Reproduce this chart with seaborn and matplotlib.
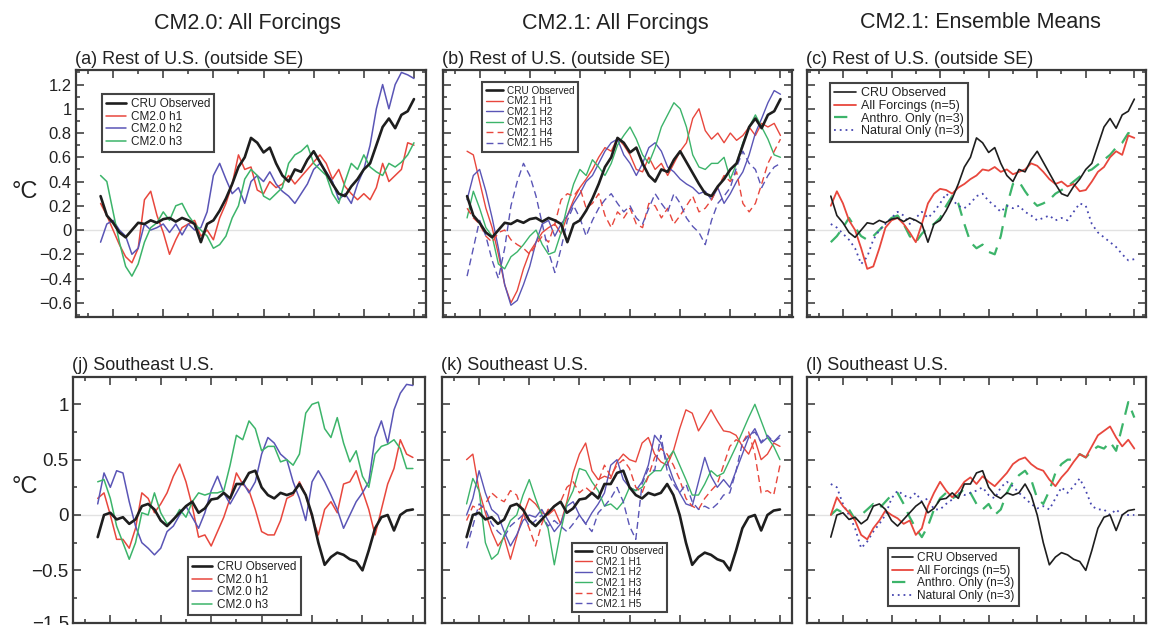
import numpy as np
import pandas as pd
import matplotlib
matplotlib.use("Agg")
import matplotlib.pyplot as plt
import seaborn as sns
from matplotlib.ticker import MultipleLocator, FixedLocator, FixedFormatter, NullFormatter

# ---------------- data (x grid: 1875..2000 every 2.5 yr) ----------------
years = [1875 + 2.5 * i for i in range(51)]

# Rest of U.S. (outside SE)
cru_rest = [0.28, 0.12, 0.06, -0.02, -0.06, 0.00, 0.06, 0.05, 0.08, 0.06,
            0.09, 0.10, 0.07, 0.10, 0.08, 0.05, -0.10, 0.05, 0.08, 0.16,
            0.26, 0.38, 0.52, 0.60, 0.76, 0.72, 0.64, 0.68, 0.55, 0.45,
            0.40, 0.50, 0.48, 0.58, 0.65, 0.56, 0.47, 0.38, 0.30, 0.28,
            0.36, 0.42, 0.50, 0.55, 0.70, 0.85, 0.92, 0.84, 0.95, 0.98,
            1.08]
cm20_h1_rest = [0.22, 0.12, 0.00, -0.12, -0.22, -0.27, -0.15, 0.25, 0.32, 0.12,
                -0.02, -0.20, -0.08, 0.02, 0.05, 0.08, -0.05, 0.00, -0.08, 0.10,
                0.22, 0.38, 0.62, 0.50, 0.52, 0.33, 0.30, 0.40, 0.35, 0.38,
                0.45, 0.38, 0.44, 0.50, 0.56, 0.62, 0.55, 0.42, 0.50, 0.36,
                0.30, 0.25, 0.30, 0.25, 0.35, 0.55, 0.40, 0.45, 0.50, 0.72,
                0.70]
cm20_h2_rest = [-0.10, 0.05, 0.08, 0.00, -0.05, -0.20, -0.15, 0.05, 0.00, 0.02,
                0.05, -0.02, 0.05, -0.04, 0.05, 0.00, 0.02, 0.15, 0.45, 0.55,
                0.42, 0.30, 0.35, 0.22, 0.40, 0.45, 0.40, 0.48, 0.38, 0.32,
                0.28, 0.22, 0.30, 0.38, 0.50, 0.55, 0.48, 0.40, 0.25, 0.30,
                0.22, 0.38, 0.50, 0.70, 1.00, 1.20, 1.00, 1.20, 1.30, 1.28,
                1.25]
cm20_h3_rest = [0.45, 0.40, 0.15, -0.10, -0.30, -0.38, -0.28, -0.10, 0.02, 0.06,
                0.15, 0.08, 0.20, 0.22, 0.12, 0.05, 0.00, -0.05, -0.15, -0.12,
                -0.05, 0.10, 0.20, 0.42, 0.50, 0.45, 0.28, 0.25, 0.30, 0.35,
                0.55, 0.62, 0.65, 0.70, 0.55, 0.50, 0.45, 0.30, 0.22, 0.40,
                0.55, 0.50, 0.62, 0.52, 0.48, 0.45, 0.55, 0.52, 0.56, 0.62,
                0.72]
cm21_h1_rest = [0.65, 0.62, 0.40, 0.18, 0.02, -0.20, -0.45, -0.60, -0.50, -0.32,
                -0.18, -0.10, -0.02, 0.02, 0.05, -0.03, 0.12, 0.25, 0.35, 0.42,
                0.50, 0.60, 0.68, 0.65, 0.76, 0.70, 0.62, 0.50, 0.48, 0.60,
                0.50, 0.55, 0.45, 0.55, 0.65, 0.72, 0.92, 1.00, 0.82, 0.75,
                0.80, 0.72, 0.80, 0.74, 0.78, 0.85, 0.78, 0.88, 0.85, 0.88,
                0.78]
cm21_h2_rest = [0.25, 0.45, 0.50, 0.32, 0.10, -0.15, -0.45, -0.62, -0.58, -0.45,
                -0.30, -0.10, 0.05, 0.08, -0.05, 0.05, 0.12, 0.22, 0.30, 0.40,
                0.45, 0.55, 0.65, 0.72, 0.75, 0.62, 0.55, 0.45, 0.55, 0.68,
                0.72, 0.65, 0.52, 0.48, 0.42, 0.38, 0.35, 0.30, 0.32, 0.25,
                0.35, 0.22, 0.30, 0.40, 0.48, 0.62, 0.80, 0.92, 1.05, 1.15,
                1.12]
cm21_h3_rest = [0.10, 0.32, 0.18, 0.02, -0.05, -0.28, -0.32, -0.22, -0.18, -0.12,
                -0.05, 0.00, -0.12, -0.20, -0.18, -0.02, 0.20, 0.38, 0.50, 0.45,
                0.58, 0.52, 0.45, 0.55, 0.70, 0.78, 0.85, 0.75, 0.62, 0.55,
                0.68, 0.85, 0.95, 1.05, 1.00, 0.85, 0.62, 0.52, 0.50, 0.55,
                0.55, 0.60, 0.42, 0.55, 0.72, 0.85, 0.95, 0.85, 0.75, 0.62,
                0.60]
cm21_h4_rest = [0.18, 0.10, 0.05, -0.05, -0.10, -0.02, 0.00, -0.08, -0.12, -0.15,
                -0.20, -0.12, -0.05, -0.10, 0.05, 0.25, 0.30, 0.28, 0.35, 0.18,
                0.22, 0.30, 0.12, 0.02, 0.15, 0.10, 0.18, 0.05, 0.02, 0.22,
                0.20, 0.10, 0.18, 0.05, 0.12, 0.20, 0.28, 0.15, 0.18, 0.25,
                0.35, 0.45, 0.40, 0.48, 0.22, 0.15, 0.22, 0.38, 0.55, 0.65,
                0.75]
cm21_h5_rest = [-0.38, -0.15, 0.08, -0.05, -0.25, -0.40, -0.15, 0.20, 0.40, 0.55,
                0.45, 0.28, 0.05, -0.18, -0.35, -0.15, 0.08, 0.20, 0.10, -0.05,
                0.08, 0.18, 0.25, 0.30, 0.22, 0.15, 0.20, 0.10, 0.05, 0.18,
                0.30, 0.22, 0.15, 0.30, 0.22, 0.10, 0.03, -0.02, -0.12, 0.08,
                0.22, 0.28, 0.35, 0.52, 0.65, 0.55, 0.50, 0.35, 0.45, 0.52,
                0.55]
allforc_rest = [0.20, 0.32, 0.22, 0.08, 0.00, -0.15, -0.32, -0.30, -0.15, 0.02,
                0.08, 0.10, 0.05, -0.02, -0.10, 0.05, 0.22, 0.30, 0.34, 0.33,
                0.30, 0.35, 0.38, 0.42, 0.45, 0.50, 0.49, 0.52, 0.48, 0.50,
                0.46, 0.48, 0.50, 0.55, 0.53, 0.48, 0.42, 0.38, 0.40, 0.36,
                0.38, 0.32, 0.33, 0.40, 0.48, 0.52, 0.60, 0.65, 0.62, 0.78,
                0.76]
anthro_rest = [-0.10, -0.05, 0.02, 0.10, 0.02, -0.05, -0.08, -0.05, 0.00, 0.05,
               0.10, 0.12, 0.05, -0.05, -0.10, -0.03, 0.02, 0.05, 0.10, 0.20,
               0.28, 0.22, 0.05, -0.10, -0.15, -0.12, -0.18, -0.20, -0.05, 0.20,
               0.38, 0.40, 0.32, 0.25, 0.20, 0.22, 0.25, 0.30, 0.33, 0.36,
               0.40, 0.44, 0.48, 0.50, 0.54, 0.58, 0.62, 0.68, 0.72, 0.80,
               0.78]
natural_rest = [0.05, 0.02, -0.03, -0.08, -0.15, -0.28, -0.22, -0.08, 0.00, 0.05,
                0.10, 0.15, 0.12, 0.05, 0.10, 0.15, 0.10, 0.15, 0.22, 0.30,
                0.25, 0.20, 0.18, 0.22, 0.28, 0.30, 0.24, 0.20, 0.15, 0.20,
                0.18, 0.20, 0.15, 0.12, 0.08, 0.10, 0.12, 0.08, 0.10, 0.08,
                0.15, 0.22, 0.20, 0.05, -0.02, -0.06, -0.10, -0.14, -0.20, -0.25,
                -0.24]

# Southeast U.S.
cru_se = [-0.20, 0.00, 0.02, -0.04, -0.02, -0.08, -0.04, 0.08, 0.10, 0.05,
          -0.05, -0.10, -0.04, 0.02, 0.08, 0.12, 0.02, 0.06, 0.14, 0.15,
          0.20, 0.15, 0.28, 0.28, 0.38, 0.40, 0.25, 0.18, 0.15, 0.20,
          0.18, 0.20, 0.28, 0.18, 0.00, -0.25, -0.45, -0.38, -0.34, -0.36,
          -0.40, -0.42, -0.50, -0.32, -0.12, -0.02, 0.00, -0.14, 0.00, 0.04,
          0.05]
cm20_h1_se = [0.15, 0.20, 0.00, -0.22, -0.22, -0.30, -0.12, 0.20, 0.15, 0.02,
              0.10, 0.20, 0.35, 0.46, 0.30, 0.08, -0.20, -0.18, -0.28, -0.15,
              -0.02, 0.15, 0.38, 0.28, 0.22, 0.05, -0.15, -0.18, -0.18, -0.05,
              0.15, 0.18, 0.30, 0.18, -0.02, -0.18, 0.05, 0.12, 0.02, 0.28,
              0.30, 0.40, 0.22, 0.05, -0.18, 0.05, 0.28, 0.42, 0.68, 0.55,
              0.52]
cm20_h2_se = [0.10, 0.38, 0.25, 0.40, 0.38, 0.12, -0.10, -0.25, -0.30, -0.36,
              -0.30, -0.15, -0.10, 0.00, 0.08, -0.02, -0.12, 0.02, 0.22, 0.35,
              0.20, 0.10, 0.20, 0.30, 0.20, 0.30, 0.55, 0.70, 0.65, 0.55,
              0.50, 0.30, 0.15, -0.05, 0.30, 0.40, 0.30, 0.18, 0.05, -0.12,
              0.00, 0.12, 0.20, 0.30, 0.70, 0.85, 0.65, 0.95, 1.10, 1.18,
              1.17]
cm20_h3_se = [0.30, 0.32, 0.15, -0.10, -0.25, -0.40, -0.25, 0.02, 0.00, 0.20,
              0.02, -0.08, -0.05, 0.05, -0.02, 0.12, 0.20, 0.18, 0.20, 0.20,
              0.22, 0.45, 0.72, 0.68, 0.85, 0.78, 0.58, 0.62, 0.62, 0.48,
              0.50, 0.45, 0.55, 0.92, 1.00, 1.02, 0.78, 0.70, 0.88, 0.65,
              0.48, 0.58, 0.35, 0.25, 0.55, 0.62, 0.64, 0.68, 0.60, 0.42,
              0.42]
cm21_h1_se = [0.50, 0.55, 0.22, 0.02, -0.15, -0.28, -0.20, -0.40, -0.20, 0.00,
              0.15, 0.10, 0.02, 0.00, 0.05, -0.08, 0.12, 0.38, 0.55, 0.65,
              0.40, 0.32, 0.35, 0.33, 0.48, 0.55, 0.50, 0.48, 0.65, 0.70,
              0.55, 0.48, 0.45, 0.58, 0.78, 0.95, 0.92, 0.76, 0.85, 0.95,
              0.85, 0.76, 0.75, 0.72, 0.62, 0.55, 0.68, 0.50, 0.55, 0.65,
              0.62]
cm21_h2_se = [0.00, 0.15, 0.40, 0.20, 0.05, 0.00, -0.15, -0.28, -0.18, -0.05,
              0.00, -0.02, 0.05, -0.05, -0.15, -0.08, 0.08, 0.12, 0.00, -0.08,
              0.02, 0.10, 0.20, 0.45, 0.50, 0.32, 0.25, 0.22, 0.30, 0.45,
              0.72, 0.65, 0.48, 0.32, 0.20, 0.10, 0.08, 0.30, 0.52, 0.35,
              0.25, 0.32, 0.25, 0.40, 0.55, 0.70, 0.78, 0.65, 0.70, 0.66,
              0.72]
cm21_h3_se = [0.10, 0.33, 0.22, -0.25, -0.40, -0.35, -0.18, -0.05, 0.00, 0.18,
              0.32, 0.15, 0.00, -0.12, -0.45, -0.15, 0.10, 0.22, 0.42, 0.40,
              0.30, 0.22, 0.08, 0.10, 0.05, 0.12, 0.25, 0.22, 0.25, 0.35,
              0.40, 0.40, 0.50, 0.58, 0.45, 0.32, 0.18, 0.18, 0.28, 0.40,
              0.35, 0.38, 0.50, 0.62, 0.75, 0.88, 1.00, 0.85, 0.70, 0.62,
              0.50]
cm21_h4_se = [-0.05, 0.08, 0.05, 0.10, 0.20, 0.15, 0.12, 0.22, 0.18, 0.02,
              -0.12, -0.28, -0.08, 0.05, 0.08, 0.12, 0.25, 0.30, 0.20, 0.25,
              0.20, 0.30, 0.45, 0.35, 0.45, 0.50, 0.42, 0.25, 0.20, 0.35,
              0.52, 0.60, 0.55, 0.45, 0.32, 0.15, 0.08, 0.05, 0.15, 0.22,
              0.28, 0.45, 0.62, 0.68, 0.65, 0.75, 0.55, 0.20, 0.22, 0.18,
              0.45]
cm21_h5_se = [-0.30, -0.10, 0.10, 0.05, -0.08, -0.15, -0.20, -0.10, -0.05, 0.00,
              -0.10, -0.05, 0.00, -0.10, -0.05, -0.10, -0.15, -0.08, 0.00, -0.08,
              -0.15, 0.02, 0.08, 0.15, 0.25, 0.12, -0.10, -0.22, 0.28, 0.42,
              0.40, 0.72, 0.40, 0.28, 0.20, 0.28, 0.12, 0.05, 0.08, 0.05,
              0.10, 0.18, 0.20, 0.40, 0.65, 0.72, 0.75, 0.66, 0.72, 0.66,
              0.70]
allforc_se = [0.00, 0.16, 0.08, 0.02, -0.05, -0.18, -0.22, -0.12, -0.05, 0.04,
              0.00, -0.03, -0.08, -0.05, -0.18, -0.12, 0.08, 0.20, 0.30, 0.22,
              0.16, 0.22, 0.30, 0.34, 0.28, 0.35, 0.30, 0.26, 0.32, 0.38,
              0.46, 0.50, 0.52, 0.46, 0.42, 0.40, 0.32, 0.26, 0.34, 0.40,
              0.48, 0.55, 0.52, 0.62, 0.72, 0.76, 0.80, 0.70, 0.62, 0.68,
              0.60]
anthro_se = [0.00, 0.05, 0.02, 0.05, -0.04, 0.00, 0.05, 0.10, 0.06, 0.12,
             0.18, 0.20, 0.10, -0.02, -0.12, -0.20, -0.10, 0.05, 0.15, 0.20,
             0.15, 0.18, 0.24, 0.20, 0.10, 0.05, 0.10, 0.00, 0.05, 0.20,
             0.30, 0.36, 0.40, 0.32, 0.15, 0.10, 0.22, 0.38, 0.46, 0.50,
             0.50, 0.55, 0.52, 0.58, 0.62, 0.60, 0.66, 0.58, 0.80, 1.02,
             0.88]
natural_se = [0.28, 0.25, 0.10, 0.00, -0.12, -0.30, -0.24, -0.15, -0.08, 0.00,
              0.15, 0.22, 0.18, 0.15, 0.20, 0.12, 0.15, 0.05, 0.05, 0.10,
              0.14, 0.20, 0.18, 0.20, 0.22, 0.25, 0.18, 0.15, 0.25, 0.30,
              0.26, 0.20, 0.15, 0.10, 0.06, 0.08, 0.05, 0.15, 0.25, 0.20,
              0.26, 0.33, 0.22, 0.08, 0.05, 0.05, 0.00, 0.05, 0.00, 0.00,
              0.00]

col_titles = ["CM2.0: All Forcings", "CM2.1: All Forcings", "CM2.1: Ensemble Means"]
row1_ticklabels = ["\u22120.6", "\u22120.4", "\u22120.2", "0", "0.2", "0.4", "0.6", "0.8", "1", "1.2"]
row1_ticks = [-0.6, -0.4, -0.2, 0.0, 0.2, 0.4, 0.6, 0.8, 1.0, 1.2]
row2_ticklabels = ["\u22121.5", "\u22120.5", "0", "0.5", "1"]

# ---------------- style ----------------
sns.set_style("ticks")
plt.rcParams["font.family"] = ["Liberation Sans", "DejaVu Sans"]
plt.rcParams["text.color"] = "#222222"
plt.rcParams["axes.unicode_minus"] = True

BLACK = "#1e1e1e"
RED = "#e8473d"
BLUE = "#5a55b6"
GREEN = "#3cb46a"
DOTBLUE = "#4646b0"
DASH = (0, (5, 3))

W, H = 1152, 625
fig = plt.figure(figsize=(W / 100, H / 100), dpi=100)


def add_ax(left, top, width, height):
    return fig.add_axes([left / W, 1 - (top + height) / H, width / W, height / H])


ROW1 = (70, 247)
ROW2 = (377.3, 245.4)

cm20_rest = [("CRU Observed", cru_rest, BLACK, 1.9, "-", 5),
             ("CM2.0 h1", cm20_h1_rest, RED, 1.1, "-", 3),
             ("CM2.0 h2", cm20_h2_rest, BLUE, 1.1, "-", 3),
             ("CM2.0 h3", cm20_h3_rest, GREEN, 1.1, "-", 3)]
cm21_rest = [("CRU Observed", cru_rest, BLACK, 1.9, "-", 5),
             ("CM2.1 H1", cm21_h1_rest, RED, 1.0, "-", 3),
             ("CM2.1 H2", cm21_h2_rest, BLUE, 1.0, "-", 3),
             ("CM2.1 H3", cm21_h3_rest, GREEN, 1.0, "-", 3),
             ("CM2.1 H4", cm21_h4_rest, RED, 1.0, DASH, 3),
             ("CM2.1 H5", cm21_h5_rest, BLUE, 1.0, DASH, 3)]
ens_rest = [("CRU Observed", cru_rest, BLACK, 1.2, "-", 5),
            ("All Forcings (n=5)", allforc_rest, RED, 1.3, "-", 4),
            ("Anthro. Only (n=3)", anthro_rest, GREEN, 1.6, (0, (6, 4)), 3),
            ("Natural Only (n=3)", natural_rest, DOTBLUE, 1.3, (0, (1, 2.2)), 3)]
cm20_se = [("CRU Observed", cru_se, BLACK, 1.9, "-", 5),
           ("CM2.0 h1", cm20_h1_se, RED, 1.1, "-", 3),
           ("CM2.0 h2", cm20_h2_se, BLUE, 1.1, "-", 3),
           ("CM2.0 h3", cm20_h3_se, GREEN, 1.1, "-", 3)]
cm21_se = [("CRU Observed", cru_se, BLACK, 1.9, "-", 5),
           ("CM2.1 H1", cm21_h1_se, RED, 1.0, "-", 3),
           ("CM2.1 H2", cm21_h2_se, BLUE, 1.0, "-", 3),
           ("CM2.1 H3", cm21_h3_se, GREEN, 1.0, "-", 3),
           ("CM2.1 H4", cm21_h4_se, RED, 1.0, DASH, 3),
           ("CM2.1 H5", cm21_h5_se, BLUE, 1.0, DASH, 3)]
ens_se = [("CRU Observed", cru_se, BLACK, 1.2, "-", 5),
          ("All Forcings (n=5)", allforc_se, RED, 1.3, "-", 4),
          ("Anthro. Only (n=3)", anthro_se, GREEN, 1.6, (0, (6, 4)), 3),
          ("Natural Only (n=3)", natural_se, DOTBLUE, 1.3, (0, (1, 2.2)), 3)]

panels = [
    dict(left=76, width=350, row=1, title="(a) Rest of U.S. (outside SE)", series=cm20_rest,
         labels=True, leg=(0.074, 0.903), lfs=8.5),
    dict(left=442.5, width=350, row=1, title="(b) Rest of U.S. (outside SE)", series=cm21_rest,
         labels=False, leg=(0.114, 0.951), lfs=7.2),
    dict(left=807, width=339, row=1, title="(c) Rest of U.S. (outside SE)", series=ens_rest,
         labels=False, leg=(0.068, 0.947), lfs=9.0),
    dict(left=73, width=352, row=2, title="(j) Southeast U.S.", series=cm20_se,
         labels=True, leg=(0.327, 0.268), lfs=8.5),
    dict(left=442, width=350, row=2, title="(k) Southeast U.S.", series=cm21_se,
         labels=False, leg=(0.371, 0.325), lfs=7.2),
    dict(left=807, width=339, row=2, title="(l) Southeast U.S.", series=ens_se,
         labels=False, leg=(0.239, 0.304), lfs=8.6),
]

for p in panels:
    top, h = ROW1 if p["row"] == 1 else ROW2
    ax = add_ax(p["left"], top, p["width"], h)
    ax.axhline(0, color="#e2e2e2", lw=1.0, zorder=0)
    for label, vals, color, lw, ls, z in p["series"]:
        sns.lineplot(x=years, y=vals, ax=ax, color=color, lw=lw, linestyle=ls,
                     label=label, zorder=z, estimator=None, errorbar=None)
    ax.set_xlim(1865.2, 2004.8)
    ax.xaxis.set_major_locator(MultipleLocator(20))
    ax.xaxis.set_minor_locator(MultipleLocator(10))
    ax.xaxis.set_major_formatter(NullFormatter())
    if p["row"] == 1:
        ax.set_ylim(-0.717, 1.32)
        ax.yaxis.set_major_locator(FixedLocator(row1_ticks))
        ax.yaxis.set_minor_locator(MultipleLocator(0.1))
        if p["labels"]:
            ax.yaxis.set_major_formatter(FixedFormatter(row1_ticklabels))
        else:
            ax.yaxis.set_major_formatter(NullFormatter())
        tfs = 12
    else:
        ax.set_ylim(-0.973, 1.244)
        ax.yaxis.set_major_locator(FixedLocator([-0.973, -0.5, 0.0, 0.5, 1.0]))
        ax.yaxis.set_minor_locator(MultipleLocator(0.25))
        if p["labels"]:
            ax.yaxis.set_major_formatter(FixedFormatter(row2_ticklabels))
        else:
            ax.yaxis.set_major_formatter(NullFormatter())
        tfs = 13.5
    ax.set_xlabel("")
    ax.set_ylabel("")
    ax.tick_params(which="both", direction="in", top=True, right=True,
                   color="#333333", width=1.1, labelsize=tfs, pad=3, labelcolor="#222222")
    ax.tick_params(which="major", length=6)
    ax.tick_params(which="minor", length=3)
    for s in ax.spines.values():
        s.set_linewidth(1.6)
        s.set_color("#3a3a3a")
    leg = ax.legend(loc="upper left", bbox_to_anchor=p["leg"], fontsize=p["lfs"],
                    frameon=True, fancybox=False, edgecolor="#444444", framealpha=1,
                    borderpad=0.35, labelspacing=0.05, handlelength=1.7,
                    handletextpad=0.4, borderaxespad=0.0)
    leg.get_frame().set_linewidth(1.5)
    leg.set_zorder(10)
    ty = 59 if p["row"] == 1 else 365
    fig.text((p["left"] - 1) / W, 1 - ty / H, p["title"], fontsize=13,
             ha="left", va="center")

# column titles
for x, t in zip([247, 615, 980], col_titles):
    fig.text(x / W, 1 - 23 / H, t, fontsize=15.5, ha="center", va="center")

# y unit labels
fig.text(25 / W, 1 - 192 / H, "\u00b0C", fontsize=17, ha="center", va="center")
fig.text(25 / W, 1 - 487 / H, "\u00b0C", fontsize=17, ha="center", va="center")

fig.savefig("out.png", dpi=100)
